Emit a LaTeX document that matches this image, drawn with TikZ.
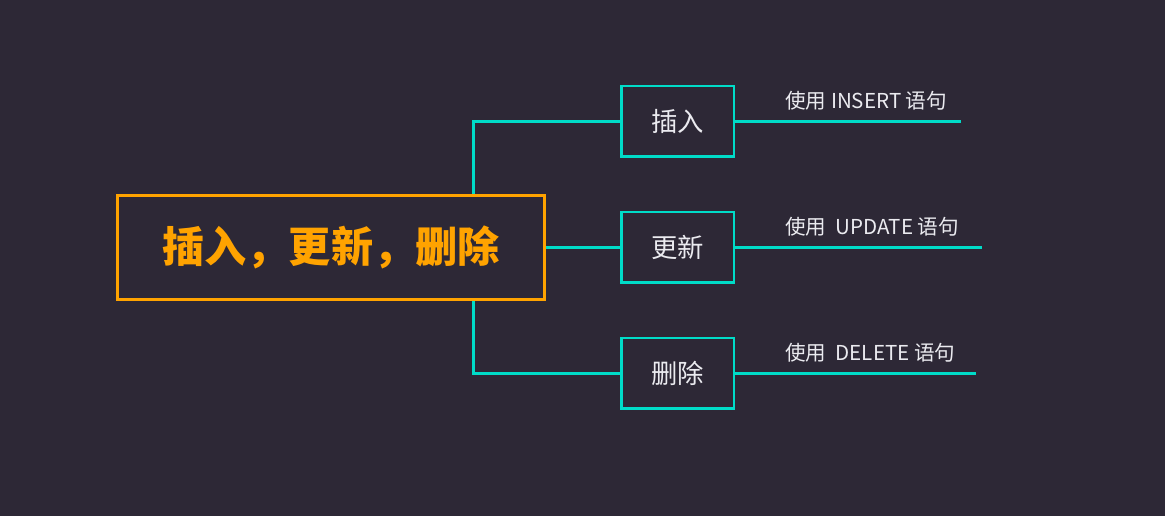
\documentclass[tikz,border=0pt]{standalone}
\usepackage{fontspec}
\newfontfamily\cjk{Noto Sans CJK SC}
\usepackage{tikz}
\usetikzlibrary{positioning}
\definecolor{mmbg}{RGB}{45,40,54}
\definecolor{mmorange}{RGB}{255,163,0}
\definecolor{mmteal}{RGB}{0,220,200}
\definecolor{mmtext}{RGB}{235,235,240}

\begin{document}
\begin{tikzpicture}[
  x=0.02cm,y=-0.02cm,
  every node/.style={font=\cjk,align=center},
  topic/.style={draw=mmorange,line width=1.7pt,minimum width=8.56cm,minimum height=2.1cm,
    text=mmorange,font=\cjk\bfseries\fontsize{24}{28}\selectfont},
  sub/.style={draw=mmteal,line width=1.7pt,minimum width=2.26cm,minimum height=1.42cm,
    text=mmtext,font=\cjk\fontsize{15}{18}\selectfont},
  note/.style={text=mmtext,anchor=west,inner sep=0pt,font=\cjk\fontsize{11.7}{14}\selectfont},
  link/.style={draw=mmteal,line width=1.7pt}
]
\fill[mmbg] (0,0) rectangle (1165,516);
\useasboundingbox (0,0) rectangle (1165,516);

\node[topic] (crud) at (331,247.5) {插入，更新，删除};
\node[sub] (ins) at (677.5,121.5) {插入};
\node[sub] (upd) at (677.5,247.5) {更新};
\node[sub] (del) at (677.5,373.5) {删除};

% connectors from the topic
\draw[link] (crud.north -| 473,0) |- (ins.west);
\draw[link] (crud.east) -- (upd.west);
\draw[link] (crud.south -| 473,0) |- (del.west);

% lines with notes
\coordinate (insEnd) at (961,121.5);
\coordinate (updEnd) at (982,247.5);
\coordinate (delEnd) at (976,373.5);
\draw[link] (ins.east) -- (insEnd);
\draw[link] (upd.east) -- (updEnd);
\draw[link] (del.east) -- (delEnd);

\node[note] (insNote) at (785,101) {使用 INSERT 语句};
\node[note] (updNote) at (785,227) {使用\ \ UPDATE 语句};
\node[note] (delNote) at (785,353) {使用\ \ DELETE 语句};
\end{tikzpicture}
\end{document}
